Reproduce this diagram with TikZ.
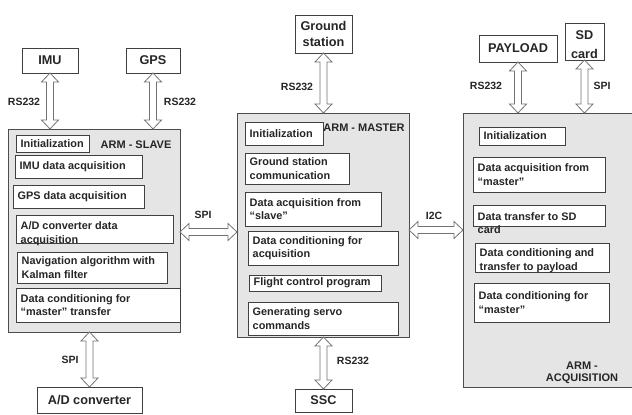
\documentclass[tikz,border=0pt]{standalone}
\usepackage{fontspec}
\setmainfont{Liberation Sans}
\usetikzlibrary{calc}
% vertical double block arrow: first point above, second below
\newcommand{\varr}[2]{\path[barrow] let \p1=(#1), \p2=(#2) in
 (\x1,\y1) -- (\x1+8.5pt,\y1-9pt) -- (\x1+3.5pt,\y1-9pt) -- (\x1+3.5pt,\y2+9pt) -- (\x1+8.5pt,\y2+9pt) -- (\x1,\y2)
 -- (\x1-8.5pt,\y2+9pt) -- (\x1-3.5pt,\y2+9pt) -- (\x1-3.5pt,\y1-9pt) -- (\x1-8.5pt,\y1-9pt) -- cycle;}
% horizontal double block arrow: first point left, second right
\newcommand{\harr}[2]{\path[barrow] let \p1=(#1), \p2=(#2) in
 (\x1,\y1) -- (\x1+9pt,\y1+8.5pt) -- (\x1+9pt,\y1+3.5pt) -- (\x2-9pt,\y1+3.5pt) -- (\x2-9pt,\y1+8.5pt) -- (\x2,\y1)
 -- (\x2-9pt,\y1-8.5pt) -- (\x2-9pt,\y1-3.5pt) -- (\x1+9pt,\y1-3.5pt) -- (\x1+9pt,\y1-8.5pt) -- cycle;}
% inner box: [text yshift] name, x, y, width, height, text
\newcommand{\ib}[7][0]{%
 \node[ibox, minimum width=#5pt, minimum height=#6pt] (#2) at (#3,#4) {};
 \node[itext, yshift=-#1pt] (#2t) at ([xshift=4.5pt]#2.west) {#7};}
\begin{document}
\begin{tikzpicture}[x=1pt,y=-1pt,
 blk/.style={draw=black!70,fill=gray!20,line width=1pt,anchor=north west,inner sep=0pt,outer sep=0pt},
 ibox/.style={draw=black!75,fill=white,line width=0.9pt,anchor=north west,inner sep=0pt,outer sep=0pt},
 ext/.style={draw=black!75,fill=white,line width=0.9pt,anchor=north west,inner sep=0pt,outer sep=0pt,align=center,font=\fontsize{12.7}{16}\selectfont\bfseries,text=black!85},
 extt/.style={inner sep=0pt,align=center,font=\fontsize{12.7}{19}\selectfont\bfseries,text=black!85},
 itext/.style={inner sep=0pt,anchor=west,align=left,font=\fontsize{10.9}{13.5}\selectfont\bfseries,text=black!85},
 ttl/.style={inner sep=0pt,align=center,font=\fontsize{11}{12.5}\selectfont\bfseries,text=black!85},
 lbl/.style={inner sep=0pt,font=\fontsize{10.5}{12}\selectfont\bfseries,text=black!85},
 barrow/.style={draw=black!55,fill=white,line width=0.8pt,line join=miter}]
\useasboundingbox (0,0) rectangle (632,415);
\fill[white] (0,0) rectangle (632,415);

% external boxes
\node[ext, minimum width=56pt, minimum height=25pt] (imu) at (22,48) {IMU};
\node[ext, minimum width=54pt, minimum height=25pt] (gps) at (126,48) {GPS};
\node[ext, minimum width=105pt, minimum height=26pt] (adc) at (37,387) {A/D converter};
\node[ext, minimum width=57pt, minimum height=38pt] (gs) at (295,15) {Ground\\station};
\node[ext, minimum width=57pt, minimum height=23pt] (ssc) at (295,389) {SSC};
\node[ext, minimum width=78pt, minimum height=27pt] (payload) at (479,35) {PAYLOAD};
\node[ext, minimum width=39pt, minimum height=37pt] (sd) at (565,23) {};
\node[extt, yshift=-3.5pt] (sdt) at (sd.center) {SD\\card};

% main blocks
\node[blk, minimum width=172pt, minimum height=203pt] (slave) at (8,129) {};
\node[blk, minimum width=172pt, minimum height=224pt] (master) at (237,113) {};
\node[blk, draw=none, minimum width=169pt, minimum height=274pt] (acq) at (463,113) {};
\draw[draw=black!70,line width=1pt] (acq.north east) -- (acq.north west) -- (acq.south west) -- (acq.south east);

% slave contents
\ib{s1}{16}{135}{73}{17}{Initialization}
\node[ttl] (tslave) at (136,145) {ARM - SLAVE};
\ib{s2}{15}{155}{127}{23}{IMU data acquisition}
\ib{s3}{13}{185}{131}{23}{GPS data acquisition}
\ib[4.5]{s4}{16}{215}{157}{28}{A/D converter data\\acquisition}
\ib{s5}{17}{252}{150}{31}{Navigation algorithm with\\Kalman filter}
\ib{s6}{16}{288}{164}{34}{Data conditioning for\\“master” transfer}

% master contents
\ib{m1}{245}{122}{78}{23}{Initialization}
\node[ttl] (tmaster) at (364,128) {ARM - MASTER};
\ib{m2}{245}{153}{104}{31}{Ground station\\communication}
\ib{m3}{245}{192}{136}{34}{Data acquisition from\\“slave”}
\ib{m4}{248}{231}{150}{34}{Data conditioning for\\acquisition}
\ib{m5}{249}{275}{132}{16}{Flight control program}
\ib{m6}{248}{302}{150}{33}{Generating servo\\commands}

% acquisition contents
\ib{a1}{479}{127}{86}{18}{Initialization}
\ib{a2}{473}{157}{132}{35}{Data acquisition from\\“master”}
\ib[7.5]{a3}{473}{205}{132}{21}{Data transfer to SD\\card}
\ib[3]{a4}{475}{243}{134}{29}{Data conditioning and\\transfer to payload}
\ib{a5}{474}{283}{135}{39}{Data conditioning for\\“master”}
\node[ttl] (tacq) at (582,373) {ARM -\\ACQUISITION};

% connectors
\coordinate (spiy) at (0,232);
\coordinate (i2cy) at (0,230);
\varr{imu.south}{imu.south |- slave.north}
\varr{gps.south}{gps.south |- slave.north}
\varr{adc.north |- slave.south}{adc.north}
\varr{gs.south}{gs.south |- master.north}
\varr{ssc.north |- master.south}{ssc.north}
\varr{payload.south}{payload.south |- acq.north}
\varr{sd.south}{sd.south |- acq.north}
\harr{slave.east |- spiy}{master.west |- spiy}
\harr{master.east |- i2cy}{acq.west |- i2cy}

% connector labels
\node[lbl] (l1) at (24,102) {RS232};
\node[lbl] (l2) at (180,102) {RS232};
\node[lbl] (l3) at (70,360) {SPI};
\node[lbl] (l4) at (297,87) {RS232};
\node[lbl] (l5) at (353,361) {RS232};
\node[lbl] (l6) at (486,86) {RS232};
\node[lbl] (l7) at (602,86) {SPI};
\node[lbl] (l8) at (203,215) {SPI};
\node[lbl] (l9) at (434,216) {I2C};
\end{tikzpicture}
\end{document}
